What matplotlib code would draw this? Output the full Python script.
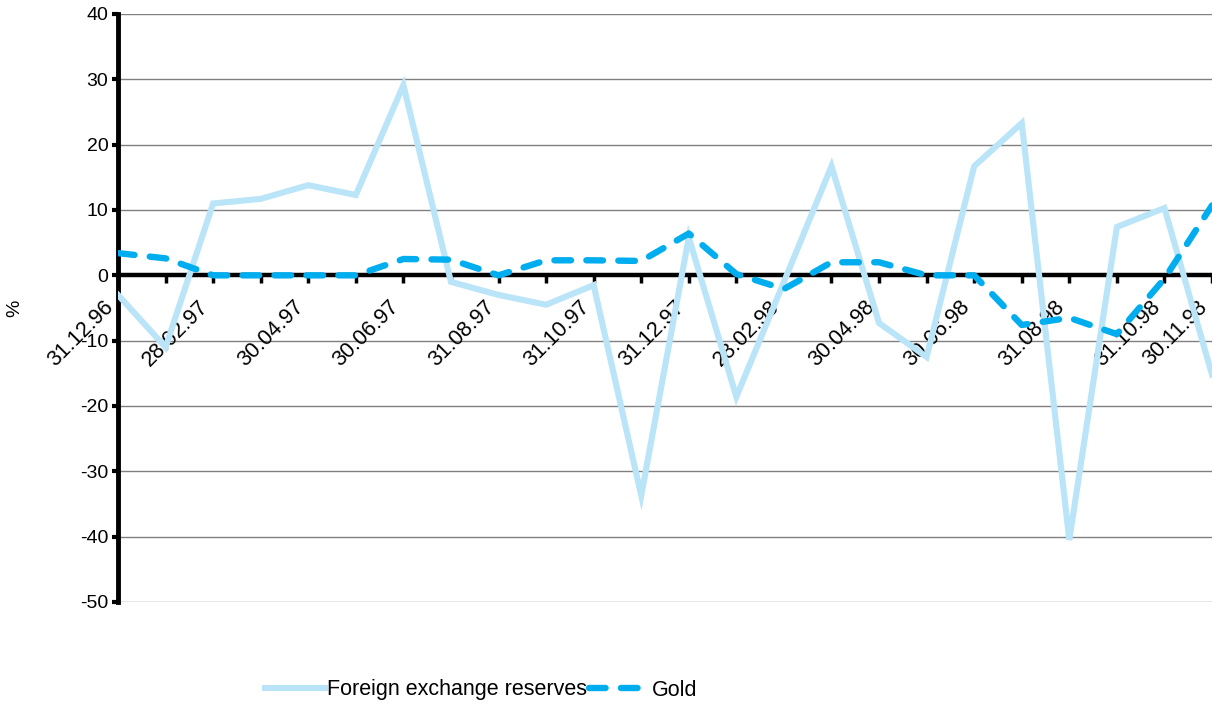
from matplotlib import pyplot as plt

plt.rcParams['font.family'] = ['Liberation Sans', 'DejaVu Sans']
plt.rcParams['axes.unicode_minus'] = False

dates = ["31.12.96", "31.01.97", "28.02.97", "31.03.97", "30.04.97", "31.05.97",
         "30.06.97", "31.07.97", "31.08.97", "30.09.97", "31.10.97", "30.11.97",
         "31.12.97", "31.01.98", "28.02.98", "31.03.98", "30.04.98", "31.05.98",
         "30.06.98", "31.07.98", "31.08.98", "30.09.98", "31.10.98", "30.11.98"]
shown = ["31.12.96", "28.02.97", "30.04.97", "30.06.97", "31.08.97", "31.10.97",
         "31.12.97", "28.02.98", "30.04.98", "30.06.98", "31.08.98", "31.10.98",
         "30.11.98"]

fx_reserves = [-3, -11, 11, 11.7, 13.8, 12.3, 29.1, -1, -3, -4.5, -1.5, -33.7,
               5.8, -18.6, -1, 16.7, -7.3, -12.5, 16.7, 23.3, -40.5, 7.4, 10.3, -15.2]
gold = [3.4, 2.6, 0, 0, 0, 0, 2.5, 2.4, 0, 2.3, 2.3, 2.2,
        6.4, 0.2, -2.1, 2.0, 2.0, 0, 0, -7.6, -6.5, -9.0, -0.5, 10.7]

x = list(range(len(dates)))

fig = plt.figure(figsize=(12.12, 7.06), dpi=100)
ax = fig.add_axes([118 / 1212, 1 - 602 / 706, 1 - 118 / 1212, (602 - 14) / 706])

# grid lines behind everything
for yv in range(-50, 41, 10):
    if yv != 0:
        ax.axhline(yv, color='#808080', lw=1, zorder=1)

l1, = ax.plot(x, fx_reserves, color='#bae4f8', lw=4.4, zorder=3,
              solid_joinstyle='miter', label='Foreign exchange reserves')
l2, = ax.plot(x, gold, color='#00aeef', lw=4.6, zorder=4, linestyle='--',
              dash_capstyle='round', label='Gold')
l2.set_dashes([2.6, 2.4])

ax.set_xlim(0, 23)
ax.set_ylim(-50, 40)

# x axis sits on zero (set position before labels, it resets the ticks)
ax.spines['bottom'].set_position(('data', 0))
ax.spines['bottom'].set_linewidth(0)
for s in ['top', 'right']:
    ax.spines[s].set_visible(False)
ax.spines['left'].set_linewidth(3.5)
ax.axhline(0, color='black', lw=3.2, zorder=2)

ax.set_yticks(range(-50, 41, 10))
ax.tick_params(axis='y', direction='out', length=4, width=3, labelsize=14, pad=3)

ax.set_xticks(x)
ax.set_xticklabels([d if d in shown else "" for d in dates], rotation=45,
                   ha='right', va='bottom', rotation_mode='anchor', fontsize=15.5)
ax.tick_params(axis='x', direction='out', length=6, width=2.5, pad=20)

fig.text(15 / 1212, 1 - 308 / 706, '%', rotation=90, ha='center', va='center', fontsize=14)

fig.legend(handles=[l1, l2], loc='center', bbox_to_anchor=(481 / 1212, 1 - 690 / 706),
           ncol=2, frameon=False, fontsize=15.5, handlelength=2.8, handletextpad=0.1,
           columnspacing=0.1)

fig.savefig('out.png', dpi=100)
